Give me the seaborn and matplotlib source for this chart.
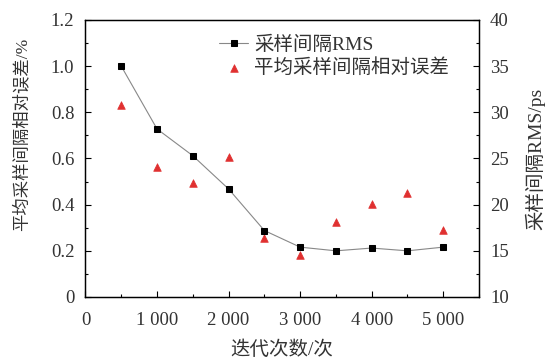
import matplotlib
matplotlib.use("Agg")
import matplotlib.pyplot as plt
from matplotlib.ticker import MultipleLocator, FuncFormatter
import seaborn as sns
import pandas as pd

# Iteration counts
iterations = [500, 1000, 1500, 2000, 2500, 3000, 3500, 4000, 4500, 5000]
# Sampling-interval RMS (ps), right axis
rms_ps = [35.0, 28.2, 25.3, 21.7, 17.2, 15.4, 15.0, 15.3, 15.0, 15.4]
# Mean relative error of sampling interval (%), left axis
rel_err = [0.833, 0.565, 0.494, 0.608, 0.254, 0.181, 0.326, 0.404, 0.449, 0.290]

df = pd.DataFrame({"iter": iterations, "rms": rms_ps, "err": rel_err})

sns.set_theme(style="white")
plt.rcParams["font.family"] = ["Liberation Serif", "Noto Sans CJK SC"]
plt.rcParams["axes.unicode_minus"] = False

text_color = "#333333"

fig = plt.figure(figsize=(5.49, 3.61), dpi=100)
ax = fig.add_axes([0.1557, 0.1773, 0.8725 - 0.1557, 0.9446 - 0.1773])
ax2 = ax.twinx()

sns.lineplot(data=df, x="iter", y="rms", ax=ax2, color="#888888", linewidth=0.8,
             marker="s", markersize=4.5, markerfacecolor="black",
             markeredgecolor="black", label="采样间隔RMS", legend=False)
sns.scatterplot(data=df, x="iter", y="err", ax=ax, marker="^", s=30,
                color="#e03030", edgecolor="#e03030", linewidth=0.5,
                label="平均采样间隔相对误差", legend=False)

ax.set_xlim(0, 5500)
ax.set_ylim(0, 1.2)
ax2.set_ylim(10, 40)

ax.xaxis.set_major_locator(MultipleLocator(1000))
ax.xaxis.set_minor_locator(MultipleLocator(500))
ax.yaxis.set_major_locator(MultipleLocator(0.2))
ax.yaxis.set_minor_locator(MultipleLocator(0.1))
ax2.yaxis.set_major_locator(MultipleLocator(5))
ax2.yaxis.set_minor_locator(MultipleLocator(2.5))

ax.xaxis.set_major_formatter(FuncFormatter(
    lambda v, p: "0" if v == 0 else f"{int(v)//1000} {int(v)%1000:03d}"))
ax.yaxis.set_major_formatter(FuncFormatter(
    lambda v, p: "0" if abs(v) < 1e-9 else f"{v:.1f}"))

tick_fs = 13.5
for a in (ax, ax2):
    a.tick_params(which="both", direction="in", labelsize=tick_fs,
                  colors="black", labelcolor=text_color)
    a.tick_params(which="major", length=4, width=0.8)
    a.tick_params(which="minor", length=2.5, width=0.8)
ax.tick_params(axis="y", which="both", left=True, right=False, pad=8)
ax.tick_params(axis="x", which="both", bottom=True, top=False, pad=11)
ax2.tick_params(axis="y", which="both", right=True, left=False, pad=8)

for a in (ax, ax2):
    for s in a.spines.values():
        s.set_color("black")
        s.set_linewidth(0.9)

ax.set_xlabel("迭代次数/次", fontsize=14, color=text_color, labelpad=8)
ax.set_ylabel("平均采样间隔相对误差/%", fontsize=12.5, color=text_color)
ax.yaxis.set_label_coords(-0.14, 0.588)
ax2.set_ylabel("采样间隔RMS/ps", fontsize=14, color=text_color, labelpad=12)

h2, l2 = ax2.get_legend_handles_labels()
h1, l1 = ax.get_legend_handles_labels()
ax2.legend(h2 + h1, l2 + l1, loc="upper left", bbox_to_anchor=(0.31, 0.985),
           frameon=False, fontsize=14, handlelength=1.5, handletextpad=0.3,
           labelspacing=0.2, borderaxespad=0.2, labelcolor=text_color)

fig.savefig("out.png", dpi=100)
